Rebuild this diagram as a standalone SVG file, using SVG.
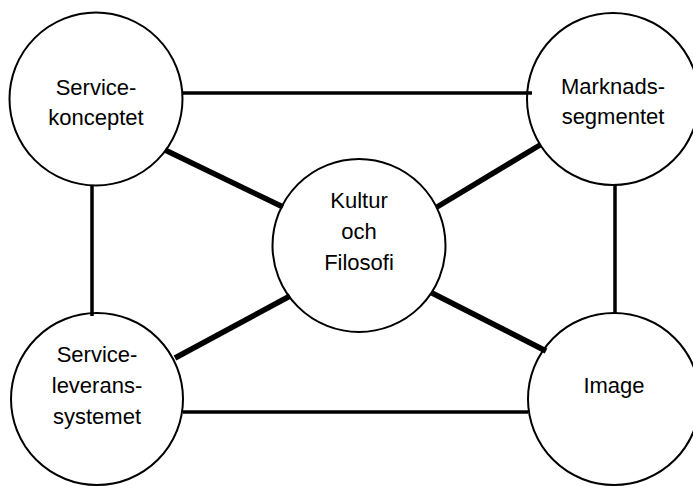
<svg xmlns="http://www.w3.org/2000/svg" width="693" height="486" viewBox="0 0 693 486">
<style>
.node circle{fill:#fff;stroke:#000;stroke-width:2}
.node text{font-family:"Liberation Sans",Arial,sans-serif;font-size:22px;fill:#000;text-anchor:middle}
.thin{stroke:#000;stroke-width:3.5;fill:none}
.thick{stroke:#000;stroke-width:5.5;fill:none}
</style>
<rect width="693" height="486" fill="#fff"/>
<g id="node-servicekonceptet" class="node">
<circle cx="96" cy="99" r="86.5"/>
<text x="96" y="95">Service-</text>
<text x="96" y="125">konceptet</text>
</g>
<g id="node-marknadssegmentet" class="node">
<circle cx="613" cy="99" r="86"/>
<text x="613" y="94">Marknads-</text>
<text x="613" y="124">segmentet</text>
</g>
<g id="node-kultur" class="node">
<circle cx="359" cy="245.5" r="86.5"/>
<text x="359" y="208">Kultur</text>
<text x="359" y="239">och</text>
<text x="359" y="270">Filosofi</text>
</g>
<g id="node-serviceleverans" class="node">
<circle cx="97" cy="399" r="86"/>
<text x="97" y="362">Service-</text>
<text x="97" y="393">leverans-</text>
<text x="97" y="424">systemet</text>
</g>
<g id="node-image" class="node">
<circle cx="614" cy="399" r="86"/>
<text x="614" y="393">Image</text>
</g>
<g id="connectors">
<line class="thin" x1="183" y1="93" x2="532" y2="93"/>
<line class="thin" x1="92" y1="185" x2="92" y2="316"/>
<line class="thin" x1="615" y1="185" x2="615" y2="313"/>
<line class="thin" x1="183" y1="412" x2="528" y2="412"/>
<line class="thick" x1="165" y1="150" x2="283" y2="207"/>
<line class="thick" x1="540" y1="145" x2="437" y2="207"/>
<line class="thick" x1="175" y1="358" x2="290" y2="296"/>
<line class="thick" x1="432" y1="293" x2="546" y2="351"/>
</g>
</svg>
